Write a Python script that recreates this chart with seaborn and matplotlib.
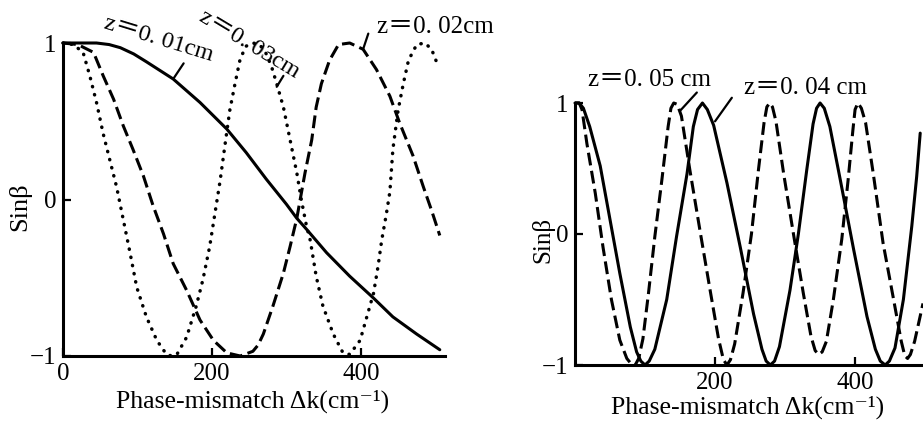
import matplotlib
matplotlib.use("Agg")
import matplotlib.pyplot as plt
import seaborn as sns
import pandas as pd

# ---------------- data ----------------
# Left panel
dk_001 = [0, 20, 45, 62, 77, 95, 112, 148, 184, 220, 246, 273, 300, 314, 327, 354, 385, 417, 443, 475, 506]
sin_001 = [1, 1, 1, 0.99, 0.97, 0.93, 0.88, 0.77, 0.62, 0.45, 0.30, 0.13, -0.03, -0.12, -0.19, -0.34, -0.49, -0.63, -0.75, -0.86, -0.96]

dk_002 = [0, 20, 41, 54, 68, 81, 94, 108, 121, 135, 148, 166, 184, 202, 220, 238, 255, 262, 269, 282, 296,
          305, 314, 325, 334, 340, 347, 358, 370, 385, 403, 421, 439, 452, 470, 484, 495, 506]
sin_002 = [1, 0.99, 0.94, 0.79, 0.64, 0.47, 0.32, 0.15, -0.04, -0.22, -0.41, -0.58, -0.77, -0.90, -0.98, -1, -0.97, -0.93, -0.86, -0.68, -0.47,
           -0.30, -0.12, 0.17, 0.38, 0.59, 0.74, 0.89, 0.99, 1, 0.96, 0.83, 0.66, 0.49, 0.28, 0.08, -0.07, -0.23]

dk_003 = [0, 14, 27, 36, 45, 54, 63, 72, 81, 90, 99, 112, 126, 139, 146, 153, 166, 179, 188, 197, 204, 211,
          217, 224, 231, 238, 246, 255, 264, 272, 280, 287, 296, 305, 314, 320, 327, 332, 340, 349, 363, 376,
          385, 399, 408, 417, 423, 428, 434, 439, 443, 450, 457, 464, 475, 486, 495, 504]
sin_003 = [1, 0.99, 0.94, 0.79, 0.62, 0.42, 0.25, 0.08, -0.13, -0.34, -0.56, -0.75, -0.90, -0.99, -1, -0.99, -0.88, -0.68, -0.51, -0.30, -0.09, 0.12,
           0.33, 0.57, 0.74, 0.90, 0.98, 1, 0.99, 0.94, 0.85, 0.74, 0.59, 0.38, 0.17, 0.0, -0.17, -0.26, -0.49, -0.68, -0.86, -0.98,
           -0.99, -0.90, -0.75, -0.60, -0.43, -0.26, -0.10, 0.05, 0.32, 0.57, 0.74, 0.89, 0.99, 1, 0.96, 0.85]

# Right panel
dk_004 = [0, 6, 12, 21, 36, 50, 64, 79, 88, 94, 100, 106, 114, 131, 145, 160, 169, 175, 182, 189, 198, 217, 236,
          255, 267, 273, 279, 285, 292, 307, 319, 331, 340, 345, 350, 356, 364, 379, 398, 417, 429, 436, 443,
          449, 457, 469, 481, 488, 493]
sin_004 = [1, 1, 0.96, 0.82, 0.52, 0.11, -0.30, -0.71, -0.90, -0.97, -1, -0.97, -0.88, -0.50, -0.02, 0.46, 0.82, 0.95, 1, 0.95, 0.83, 0.39, -0.10,
           -0.61, -0.88, -0.97, -1, -0.97, -0.86, -0.43, 0, 0.49, 0.84, 0.96, 1, 0.96, 0.82, 0.41, -0.12, -0.63, -0.88, -0.97, -1,
           -0.97, -0.87, -0.50, 0.06, 0.44, 0.77]

dk_005 = [0, 6, 10, 17, 29, 40, 52, 64, 74, 80, 86, 91, 97, 105, 114, 124, 133, 137, 141, 146, 152, 164, 179,
          193, 205, 212, 217, 222, 228, 240, 252, 262, 270, 274, 278, 282, 287, 298, 312, 326, 337, 343, 348,
          353, 359, 369, 381, 390, 397, 400, 404, 409, 415, 426, 440, 455, 466, 471, 475, 479, 485, 497]
sin_005 = [1, 1, 0.95, 0.69, 0.31, -0.10, -0.50, -0.81, -0.95, -0.99, -1, -0.95, -0.80, -0.45, -0.02, 0.41, 0.82, 0.96, 1, 0.99, 0.90, 0.49, 0.01,
           -0.43, -0.80, -0.96, -1, -0.96, -0.84, -0.45, 0.0, 0.49, 0.85, 0.97, 1, 0.97, 0.86, 0.46, 0, -0.45, -0.78, -0.89, -0.92,
           -0.90, -0.82, -0.50, -0.04, 0.41, 0.80, 0.95, 1, 0.96, 0.85, 0.46, -0.07, -0.50, -0.82, -0.93, -0.95, -0.92, -0.82, -0.53]

x_ticks_left = [0, 200, 400]
x_ticks_right = [200, 400]
y_ticks = [-1, 0, 1]
y_tick_labels = ["\u22121", "0", "1"]
x_label = "Phase-mismatch \u0394k(cm\u207b\u00b9)"
y_label = "Sin\u03b2"
labels_left = ["z\uff1d0. 01cm", "z\uff1d0. 03cm", "z\uff1d0. 02cm"]
labels_right = ["z\uff1d0. 05 cm", "z\uff1d0. 04 cm"]

# ---------------- style ----------------
sns.set_theme(style="white")
FAM = ["Liberation Serif", "Noto Sans CJK SC", "DejaVu Serif"]
plt.rcParams["font.family"] = FAM
plt.rcParams["axes.linewidth"] = 2.2

W, H = 923, 430
fig = plt.figure(figsize=(W / 100, H / 100), dpi=100)

def px_axes(x0, y_top, x1, y_bot):
    return fig.add_axes([x0 / W, 1 - y_bot / H, (x1 - x0) / W, (y_bot - y_top) / H])

axL = px_axes(63, 43, 445, 356)
axR = px_axes(575, 103, 923, 365)

def draw(ax, x, y, ls, lw, cap="butt"):
    df = pd.DataFrame({"dk": x, "s": y})
    sns.lineplot(data=df, x="dk", y="s", ax=ax, color="black", linewidth=lw,
                 linestyle=ls, estimator=None, sort=False, clip_on=False,
                 dash_capstyle=cap)

draw(axL, dk_001, sin_001, "-", 2.2)
draw(axL, dk_002, sin_002, (0, (4.2, 1.8)), 2.2)
draw(axL, dk_003, sin_003, (0, (0.1, 2.3)), 2.5, cap="round")
draw(axR, dk_004, sin_004, "-", 2.2)
draw(axR, dk_005, sin_005, (0, (4.2, 1.8)), 2.2)

for ax in (axL, axR):
    sns.despine(ax=ax)
    ax.set_ylim(-1, 1)
    ax.set_yticks(y_ticks)
    ax.set_yticklabels(y_tick_labels)
    ax.tick_params(direction="in", length=6, width=1.6, labelsize=18, pad=5,
                   left=True, bottom=True, colors="black")
    ax.set_xlabel("")
    ax.set_ylabel("")
    for s in ax.spines.values():
        s.set_color("black")

axL.set_xlim(0, 513)
axL.set_xticks(x_ticks_left)
axR.set_xlim(0, 497)
axR.set_xticks(x_ticks_right)

def ftext(x, y, s, size, rot=0):
    fig.text(x / W, 1 - y / H, s, ha="center", va="center", fontsize=size,
             rotation=rot, color="black", family=FAM)

ftext(253, 401, x_label, 18.5)
ftext(748, 407, x_label, 18.5)
ftext(20, 207, y_label, 19, 90)
ftext(543, 240, y_label, 18, 90)

ftext(159, 39, labels_left[0], 17.5, -17)
ftext(249, 44, labels_left[1], 17.5, -31)
ftext(435, 27, labels_left[2], 18)
ftext(649, 80, labels_right[0], 18)
ftext(805, 88, labels_right[1], 18)

def leader(ax, p0, p1):
    ax.annotate("", xy=p0, xytext=p1, annotation_clip=False,
                arrowprops=dict(arrowstyle="-", color="black", lw=1.6, shrinkA=0, shrinkB=0))

leader(axL, (148, 0.77), (162, 0.87))
leader(axL, (287, 0.72), (296, 0.79))
leader(axL, (403, 0.96), (410, 1.06))
leader(axR, (150, 0.94), (174, 1.08))
leader(axR, (200, 0.86), (224, 1.04))

fig.savefig("out.png", dpi=100)
